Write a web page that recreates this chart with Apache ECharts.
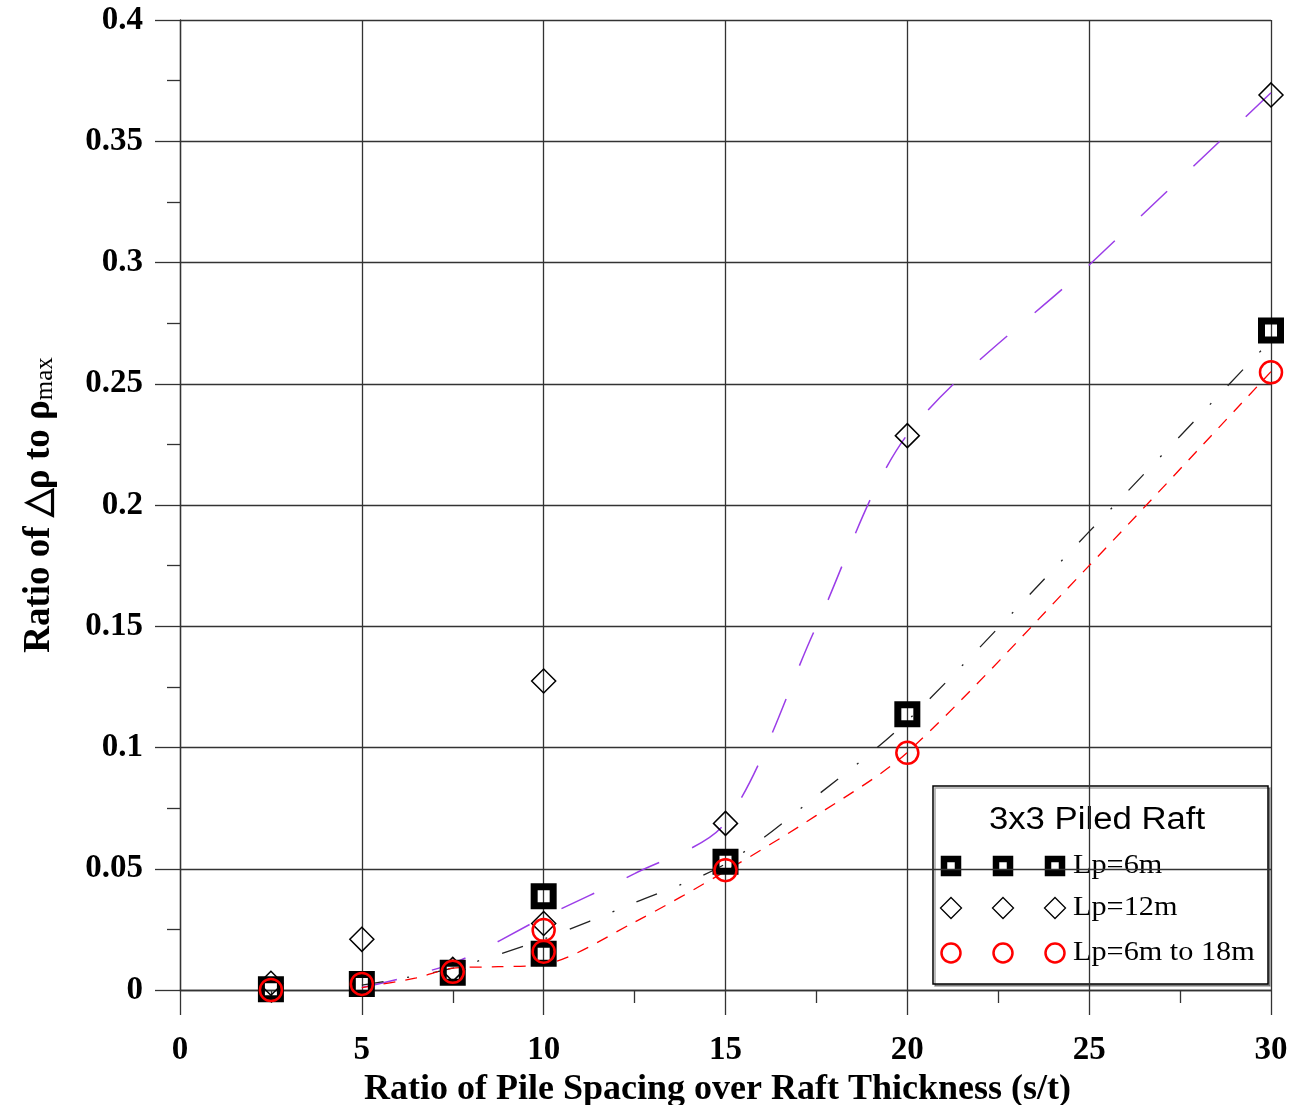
<!DOCTYPE html>
<html>
<head>
<meta charset="utf-8">
<script src="https://cdn.jsdelivr.net/npm/echarts@6/dist/echarts.min.js"></script>
<style>
  html, body { margin: 0; padding: 0; background: #fff; }
  #chart { width: 1295px; height: 1105px; }
</style>
</head>
<body>
<div id="chart"></div>
<script>
// Settlement-difference ratio vs. pile spacing / raft thickness, 3x3 piled raft

// Measured points [s/t, ratio]
const lp6m = [[2.5, 0.0003], [5, 0.0025], [7.5, 0.0071], [10, 0.0387], [10, 0.015], [15, 0.0529], [20, 0.1137], [30, 0.272]];
const lp12m = [[2.5, 0.0028], [5, 0.0209], [7.5, 0.0085], [10, 0.1274], [10, 0.0274], [15, 0.0687], [20, 0.2286], [30, 0.3691]];
const lpVar = [[2.5, 0.0], [5, 0.0025], [7.5, 0.0075], [10, 0.0247], [10, 0.0158], [15, 0.0494], [20, 0.0978], [30, 0.2547]];

// Fitted trend curves [s/t, ratio]
const trend6m = [[5, 0.002], [7.5, 0.009], [10, 0.021], [12.5, 0.036], [15, 0.052], [17.5, 0.080], [20, 0.111], [25, 0.189], [30, 0.268]];
const trend12m = [[5, 0.001], [7.5, 0.011], [10, 0.030], [12.5, 0.048], [15, 0.069], [17.5, 0.150], [20, 0.229], [25, 0.299], [30, 0.370]];
const trendVar = [[5, 0.001], [6.5, 0.005], [7.5, 0.009], [8.75, 0.0096], [10, 0.0105], [12.5, 0.028], [15, 0.049], [17.5, 0.072], [20, 0.098], [25, 0.175], [30, 0.255]];

// Names
const seriesNames = ['Lp=6m', 'Lp=12m', 'Lp=6m to 18m'];
const legendTitle = '3x3 Piled Raft';
const xTitle = 'Ratio of Pile Spacing over Raft Thickness (s/t)';
const yTitle = 'Ratio of \u25B3\u03C1 to \u03C1{sub|max}';

const SERIF = "'Liberation Serif', 'Times New Roman', serif";
const SANS = "'Liberation Sans', Arial, sans-serif";
const GRID_COLOR = '#333';
const PURPLE = '#9B3DE8';

const chart = echarts.init(document.getElementById('chart'), null, { renderer: 'canvas' });

function axisCommon() {
  return {
    type: 'value',
    axisLine: { show: true, lineStyle: { color: GRID_COLOR, width: 1.3 } },
    axisTick: { show: true, length: 25, lineStyle: { color: GRID_COLOR, width: 1.3 } },
    minorTick: { show: true, splitNumber: 2, length: 13, lineStyle: { color: GRID_COLOR, width: 1.3 } },
    splitLine: { show: true, lineStyle: { color: GRID_COLOR, width: 1.3 } },
    minorSplitLine: { show: false },
    axisLabel: { fontFamily: SERIF, fontWeight: 'bold', fontSize: 33, color: '#000' }
  };
}

const xAxis = Object.assign(axisCommon(), {
  min: 0, max: 30, interval: 5,
  name: xTitle, nameLocation: 'middle', nameGap: 76,
  nameTextStyle: { fontFamily: SERIF, fontWeight: 'bold', fontSize: 36, color: '#000', padding: [0, 16, 0, 0] }
});
xAxis.axisLabel.margin = 44;

const yAxis = Object.assign(axisCommon(), {
  min: 0, max: 0.4, interval: 0.05,
  name: yTitle, nameLocation: 'middle', nameRotate: 90, nameGap: 122,
  nameTextStyle: {
    fontFamily: SERIF, fontWeight: 'bold', fontSize: 37, color: '#000',
    rich: { sub: { fontFamily: SERIF, fontWeight: 'normal', fontSize: 25, color: '#000', verticalAlign: 'bottom' } }
  }
});
yAxis.axisLabel.margin = 37;

function trendSeries(data, color, dash, width) {
  return {
    type: 'line', data: data, smooth: 0.3, showSymbol: false, symbol: 'none',
    clip: false, silent: true, z: 2,
    lineStyle: { color: color, width: width, type: dash }
  };
}

function markerSeries(name, data, symbol, size, border, borderWidth, z) {
  return {
    name: name, type: 'scatter', data: data, symbol: symbol, symbolSize: size,
    clip: false, silent: true, z: z,
    itemStyle: { color: 'rgba(0,0,0,0)', borderColor: border, borderWidth: borderWidth, opacity: 1 },
    emphasis: { disabled: true }
  };
}

// Legend drawn as a framed box with three marker samples per row
const LX = 933, LY = 786, LW = 335, LH = 198;
const rowY = [866, 908, 953];
const sampleX = [951, 1003, 1055];
const legendChildren = [
  { type: 'rect', shape: { x: LX, y: LY, width: LW, height: LH },
    style: { fill: '#fff', stroke: '#000', lineWidth: 1.5, shadowColor: 'rgba(0,0,0,0.35)', shadowOffsetX: 2, shadowOffsetY: 2, shadowBlur: 0 } },
  { type: 'text', x: 1097, y: 820, scaleX: 1.12,
    style: { text: legendTitle, font: '31px ' + SANS, fill: '#000', align: 'center', verticalAlign: 'middle' } }
];
sampleX.forEach(function (cx) {
  legendChildren.push({ type: 'rect', shape: { x: cx - 7, y: rowY[0] - 7, width: 14, height: 14 },
    style: { fill: 'none', stroke: '#000', lineWidth: 6.5 } });
  legendChildren.push({ type: 'polygon', shape: { points: [[cx, rowY[1] - 10.5], [cx + 10.5, rowY[1]], [cx, rowY[1] + 10.5], [cx - 10.5, rowY[1]]] },
    style: { fill: 'none', stroke: '#000', lineWidth: 1.3 } });
  legendChildren.push({ type: 'circle', shape: { cx: cx, cy: rowY[2], r: 9.5 },
    style: { fill: 'none', stroke: '#ff0000', lineWidth: 2.5 } });
});
seriesNames.forEach(function (n, i) {
  legendChildren.push({ type: 'text', x: 1073, y: rowY[i], scaleX: 1.08,
    style: { text: n, font: '28px ' + SERIF, fill: '#000', align: 'left', verticalAlign: 'middle' } });
});

const option = {
  animation: false,
  backgroundColor: '#fff',
  grid: { left: 180, right: 24, top: 20, bottom: 115, outerBoundsMode: 'none' },
  xAxis: xAxis,
  yAxis: yAxis,
  series: [
    trendSeries(trend12m, PURPLE, [36, 36], 1.5),
    trendSeries(trend6m, '#222', [22, 24, 2, 24], 1.3),
    trendSeries(trendVar, '#ff0000', [12, 10], 1.3),
    markerSeries(seriesNames[1], lp12m, 'diamond', 24, '#000', 1.5, 3),
    markerSeries(seriesNames[0], lp6m, 'rect', 19, '#000', 7, 4),
    markerSeries(seriesNames[2], lpVar, 'circle', 22, '#ff0000', 2.5, 5)
  ],
  graphic: [{ type: 'group', z: 100, children: legendChildren }]
};

chart.setOption(option);
</script>
</body>
</html>
